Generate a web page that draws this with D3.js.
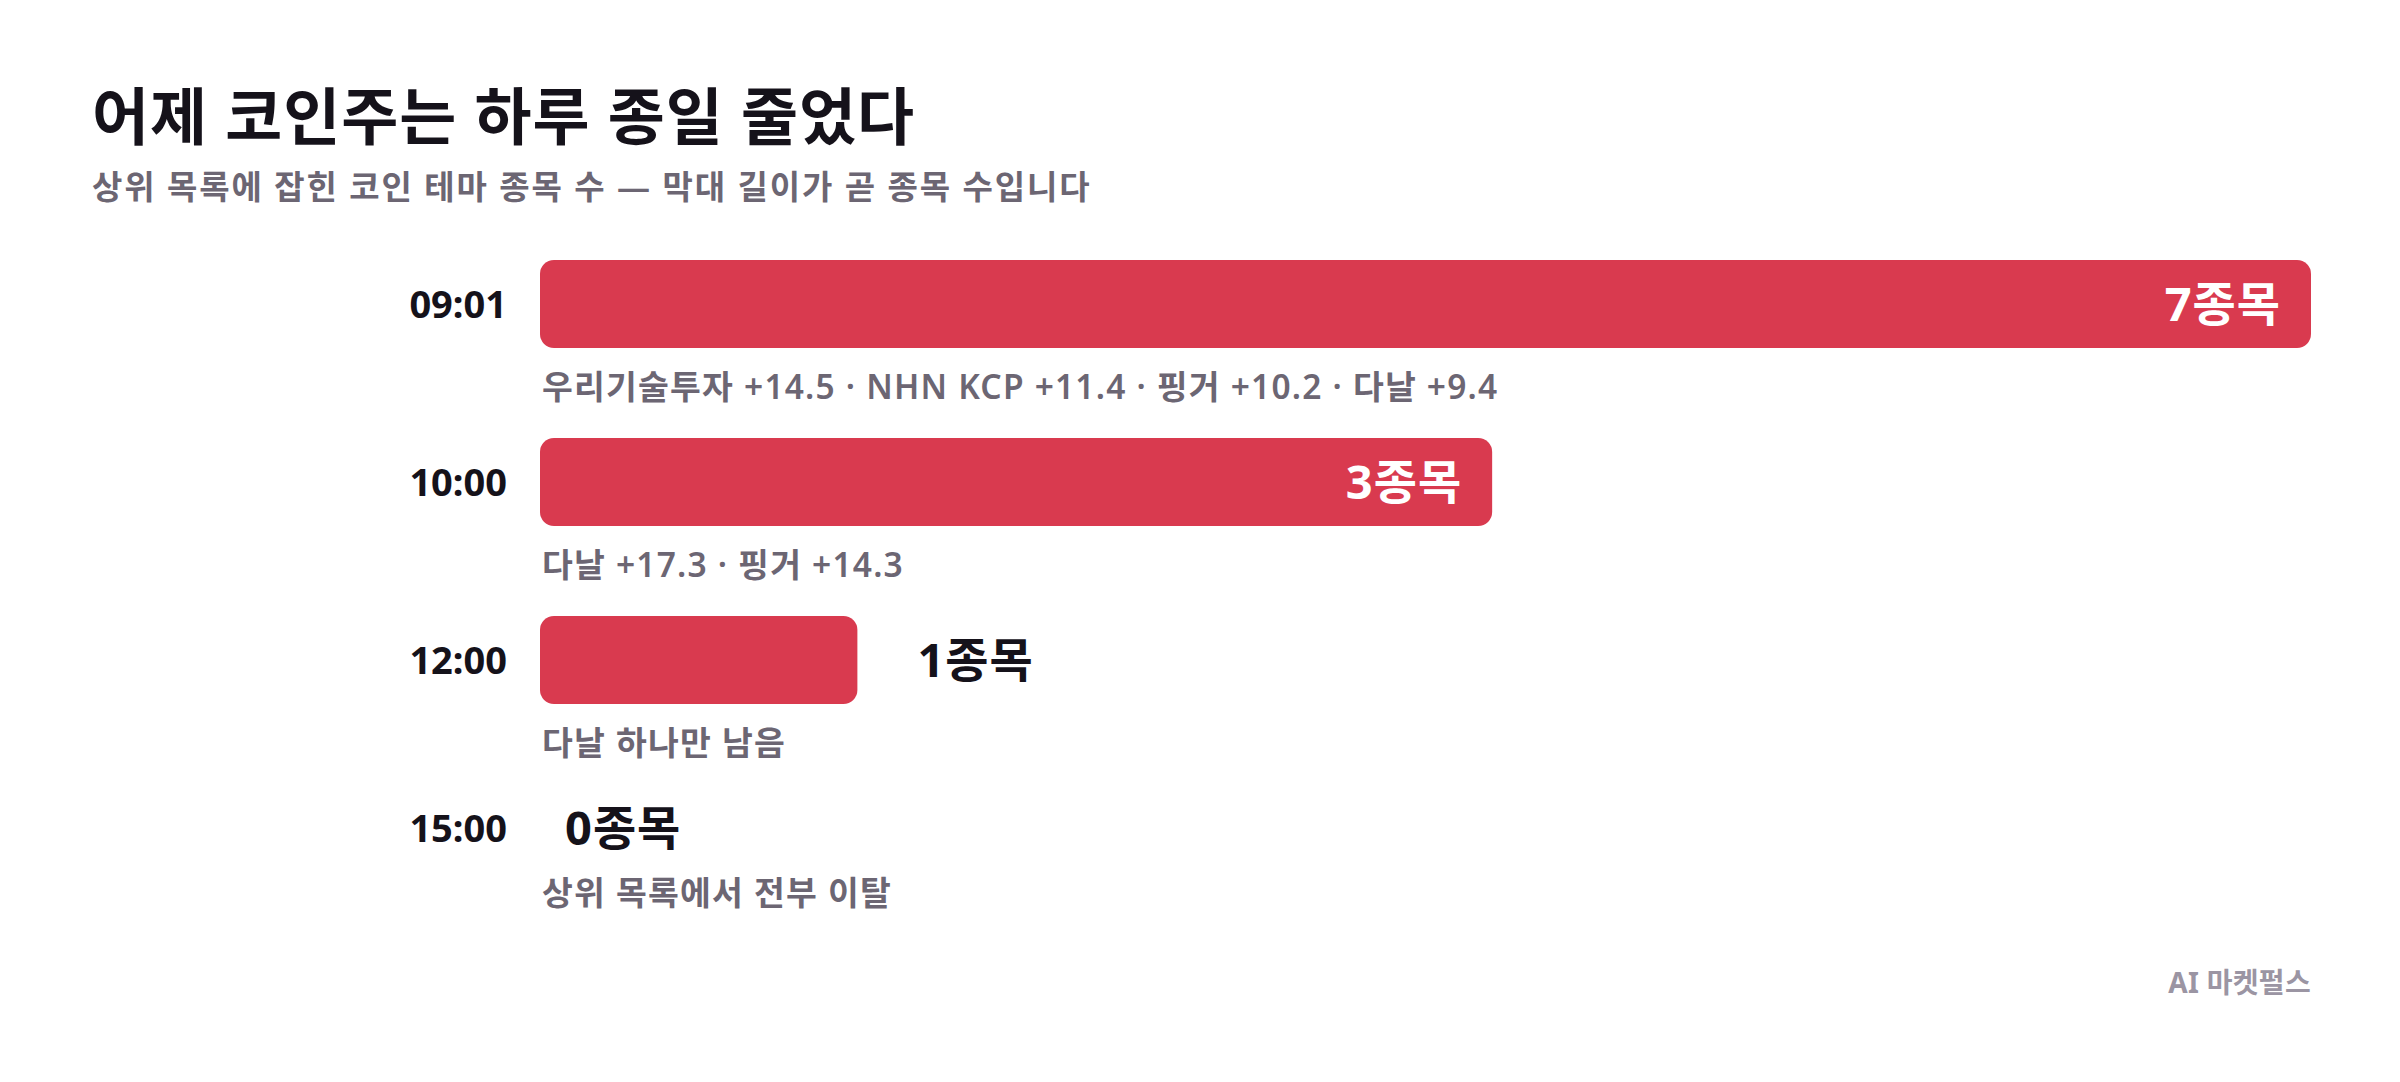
<!DOCTYPE html>
<html lang="ko">
<head>
  <meta charset="UTF-8">
  <script src="https://d3js.org/d3.v7.min.js"></script>
  <style>
    html, body { margin: 0; padding: 0; background: #fff; }
    svg { display: block; font-family: "Noto Sans", "Noto Sans CJK KR", sans-serif; }
  </style>
</head>
<body>
  <svg id="chart" width="2400" height="1082"></svg>
  <script>
    // data
    const times = ["09:01", "10:00", "12:00", "15:00"]
    const counts = [7, 3, 1, 0]
    const notes = [
      "우리기술투자 +14.5 · NHN KCP +11.4 · 핑거 +10.2 · 다날 +9.4",
      "다날 +17.3 · 핑거 +14.3",
      "다날 하나만 남음",
      "상위 목록에서 전부 이탈"
    ]
    const unit = "종목"
    const title = "어제 코인주는 하루 종일 줄었다"
    const subtitle = "상위 목록에 잡힌 코인 테마 종목 수 — 막대 길이가 곧 종목 수입니다"
    const source = "AI 마켓펄스"

    const left = 92
    const barLeft = 540
    const barRight = 2311
    const ink = "#15121a"
    const grey = "#6c6673"
    const red = "#d93a4f"

    const svg = d3.select("#chart")

    // title + subtitle
    svg.append("text")
      .attr("x", left).attr("y", 140)
      .attr("font-size", 62).attr("font-weight", 700)
      .attr("letter-spacing", 1)
      .attr("fill", ink)
      .text(title)
    svg.append("text")
      .attr("x", left).attr("y", 199)
      .attr("font-size", 33).attr("font-weight", 600)
      .attr("letter-spacing", 1.9)
      .attr("fill", grey)
      .text(subtitle)

    // x scale - bar length is the count (long bar runs to the edge)
    const xscale = d3.scaleLinear()
      .domain([0, 5.58])
      .range([barLeft, barRight])
      .clamp(true)

    // stack the rows; an empty row gets a shorter band
    const barH = 88
    const rows = []
    let rowTop = 260
    counts.forEach((v, i) => {
      const h = v > 0 ? barH : 68
      const center = rowTop + h / 2
      const sub = v > 0 ? rowTop + h + 39 : rowTop + h + 31
      rows.push({ time: times[i], v, note: notes[i], y0: rowTop, h, center, sub })
      rowTop += barH + 90
    })

    const g = svg.append("g")

    // bars
    g.selectAll("rect")
      .data(rows.filter(d => d.v > 0))
      .enter()
      .append("rect")
      .attr("x", xscale(0))
      .attr("y", d => d.y0)
      .attr("width", d => xscale(d.v) - xscale(0))
      .attr("height", d => d.h)
      .attr("rx", 14)
      .attr("fill", red)

    // time labels
    g.selectAll(".time")
      .data(rows)
      .enter()
      .append("text")
      .attr("class", "time")
      .attr("x", 507)
      .attr("y", d => d.center + 14)
      .attr("text-anchor", "end")
      .attr("font-size", 38).attr("font-weight", 700)
      .attr("fill", ink)
      .text(d => d.time)

    // count labels: inside for long bars, outside otherwise
    const inside = d => d.v >= 3
    g.selectAll(".val")
      .data(rows)
      .enter()
      .append("text")
      .attr("class", "val")
      .attr("x", d => inside(d) ? xscale(d.v) - 30 : (d.v > 0 ? xscale(d.v) + 60 : xscale(0) + 25))
      .attr("y", d => d.center + 17)
      .attr("text-anchor", d => inside(d) ? "end" : "start")
      .attr("font-size", 47).attr("font-weight", 700)
      .attr("letter-spacing", 1)
      .attr("fill", d => inside(d) ? "#fff" : ink)
      .text(d => d.v + unit)

    // notes under each row
    g.selectAll(".note")
      .data(rows)
      .enter()
      .append("text")
      .attr("class", "note")
      .attr("x", barLeft + 2)
      .attr("y", d => d.sub + 12)
      .attr("font-size", 33.5).attr("font-weight", 600)
      .attr("letter-spacing", 1.2)
      .attr("fill", grey)
      .text(d => d.note)

    // source
    svg.append("text")
      .attr("x", barRight).attr("y", 993)
      .attr("text-anchor", "end")
      .attr("font-size", 28).attr("font-weight", 700)
      .attr("letter-spacing", 0.3)
      .attr("fill", "#9b95a3")
      .text(source)
  </script>
</body>
</html>
